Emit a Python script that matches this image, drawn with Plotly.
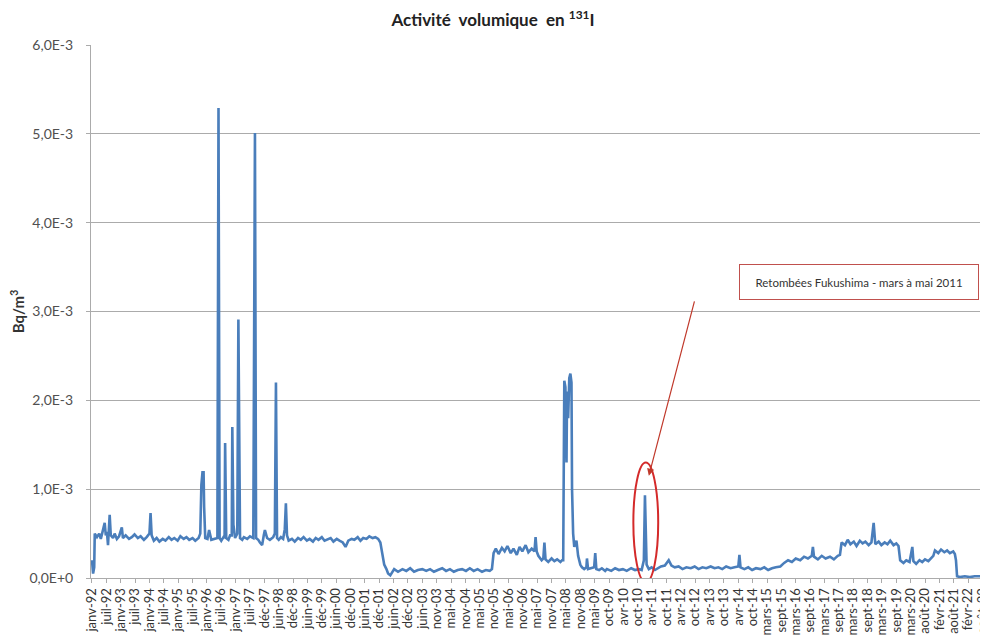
import plotly.graph_objects as go

# ---- Data -------------------------------------------------------------
# Sample index (weekly-ish samples, 26 samples between two axis labels)
week_index = [
    0, 2, 4, 5, 9, 13, 16, 20, 23, 25, 27, 29, 31, 32, 34, 38, 41, 45, 49, 54,
    56, 61, 67, 72, 77, 83, 88, 94, 99, 104, 106, 108, 112, 117, 122, 128, 133, 139, 144, 149,
    155, 160, 166, 171, 176, 182, 187, 193, 196, 198, 200, 202, 203, 205, 209, 212, 216, 220, 225, 227,
    229, 231, 234, 238, 240, 241, 243, 247, 250, 253, 254, 256, 259, 263, 265, 268, 272, 275, 281, 286,
    292, 295, 297, 301, 304, 308, 311, 313, 317, 322, 328, 331, 333, 335, 338, 342, 346, 349, 351, 353,
    356, 362, 367, 373, 378, 383, 389, 394, 400, 405, 410, 416, 421, 427, 432, 437, 443, 448, 454, 459,
    464, 470, 475, 481, 486, 491, 497, 502, 508, 513, 518, 522, 526, 529, 533, 536, 540, 544, 547, 554,
    562, 569, 576, 583, 590, 598, 605, 612, 619, 626, 634, 641, 648, 655, 662, 670, 677, 684, 691, 698,
    706, 713, 720, 724, 727, 731, 736, 742, 747, 752, 758, 763, 769, 774, 779, 785, 790, 796, 801, 803,
    805, 808, 814, 817, 819, 821, 826, 832, 837, 842, 848, 851, 853, 855, 857, 859, 860, 862, 864, 866,
    868, 869, 871, 873, 877, 880, 884, 887, 891, 895, 896, 898, 904, 909, 911, 913, 918, 923, 929, 932,
    940, 947, 954, 961, 968, 976, 983, 990, 995, 999, 1001, 1003, 1004, 1008, 1013, 1019, 1024, 1030, 1037, 1044,
    1049, 1055, 1062, 1069, 1076, 1084, 1091, 1098, 1105, 1112, 1120, 1127, 1134, 1141, 1148, 1156, 1163, 1170, 1172, 1174,
    1181, 1188, 1195, 1202, 1210, 1217, 1224, 1231, 1238, 1246, 1253, 1260, 1267, 1274, 1282, 1289, 1296, 1303, 1305, 1307,
    1314, 1321, 1328, 1336, 1343, 1350, 1354, 1357, 1363, 1368, 1373, 1379, 1384, 1390, 1395, 1400, 1406, 1411, 1415, 1418,
    1424, 1429, 1435, 1440, 1445, 1451, 1456, 1460, 1463, 1469, 1474, 1480, 1485, 1487, 1492, 1498, 1503, 1508, 1514, 1519,
    1523, 1526, 1532, 1537, 1543, 1548, 1553, 1559, 1562, 1564, 1566, 1571, 1580, 1589, 1598, 1622,
]

# Activity in units of 1E-3 Bq/m3
activity_e3 = [
    0.20, 0.05, 0.12, 0.50, 0.46, 0.50, 0.44, 0.55, 0.62, 0.48, 0.52, 0.37, 0.55, 0.71, 0.48, 0.45, 0.50, 0.44, 0.47, 0.57,
    0.45, 0.48, 0.44, 0.46, 0.49, 0.45, 0.47, 0.43, 0.46, 0.50, 0.73, 0.48, 0.42, 0.45, 0.41, 0.44, 0.42, 0.46, 0.43, 0.45,
    0.42, 0.47, 0.44, 0.46, 0.43, 0.45, 0.42, 0.45, 0.50, 1.05, 1.19, 1.19, 0.80, 0.45, 0.44, 0.54, 0.43, 0.44, 0.45, 0.45,
    5.29, 0.45, 0.42, 0.46, 0.45, 1.52, 0.45, 0.43, 0.48, 0.48, 1.70, 0.60, 0.45, 0.50, 2.91, 0.45, 0.43, 0.46, 0.44, 0.47,
    0.45, 5.01, 0.45, 0.43, 0.40, 0.37, 0.48, 0.54, 0.45, 0.43, 0.46, 0.50, 2.20, 0.45, 0.43, 0.46, 0.44, 0.55, 0.84, 0.48,
    0.42, 0.44, 0.41, 0.45, 0.43, 0.46, 0.42, 0.44, 0.41, 0.45, 0.43, 0.46, 0.42, 0.44, 0.45, 0.41, 0.44, 0.42, 0.40, 0.35,
    0.42, 0.44, 0.43, 0.46, 0.42, 0.45, 0.44, 0.47, 0.45, 0.46, 0.44, 0.40, 0.25, 0.15, 0.10, 0.05, 0.03, 0.08, 0.10, 0.07,
    0.10, 0.08, 0.11, 0.07, 0.09, 0.10, 0.08, 0.10, 0.07, 0.09, 0.11, 0.08, 0.10, 0.07, 0.09, 0.10, 0.08, 0.11, 0.08, 0.10,
    0.07, 0.09, 0.08, 0.10, 0.28, 0.33, 0.27, 0.34, 0.30, 0.36, 0.28, 0.33, 0.26, 0.35, 0.30, 0.37, 0.29, 0.33, 0.30, 0.46,
    0.30, 0.25, 0.20, 0.22, 0.40, 0.21, 0.18, 0.22, 0.19, 0.21, 0.18, 0.20, 0.20, 2.22, 2.15, 1.30, 2.10, 1.80, 2.25, 2.30,
    2.20, 1.00, 0.50, 0.35, 0.42, 0.25, 0.15, 0.12, 0.10, 0.12, 0.22, 0.10, 0.11, 0.12, 0.28, 0.10, 0.09, 0.11, 0.08, 0.10,
    0.08, 0.11, 0.09, 0.10, 0.08, 0.11, 0.09, 0.10, 0.09, 0.20, 0.93, 0.40, 0.15, 0.10, 0.12, 0.09, 0.11, 0.13, 0.14, 0.20,
    0.14, 0.12, 0.13, 0.10, 0.12, 0.11, 0.13, 0.10, 0.12, 0.11, 0.13, 0.11, 0.12, 0.10, 0.13, 0.11, 0.12, 0.13, 0.26, 0.12,
    0.10, 0.12, 0.09, 0.11, 0.10, 0.12, 0.09, 0.11, 0.12, 0.13, 0.17, 0.20, 0.18, 0.22, 0.20, 0.24, 0.22, 0.25, 0.35, 0.24,
    0.21, 0.25, 0.22, 0.24, 0.21, 0.25, 0.26, 0.40, 0.37, 0.43, 0.38, 0.41, 0.36, 0.42, 0.39, 0.41, 0.37, 0.40, 0.62, 0.38,
    0.41, 0.37, 0.40, 0.38, 0.42, 0.37, 0.39, 0.36, 0.20, 0.17, 0.20, 0.18, 0.35, 0.19, 0.16, 0.20, 0.18, 0.21, 0.19, 0.22,
    0.25, 0.31, 0.28, 0.32, 0.29, 0.31, 0.28, 0.30, 0.27, 0.20, 0.02, 0.01, 0.02, 0.01, 0.02, 0.02,
]

x_tick_labels = [
    "janv-92", "juil-92", "janv-93", "juil-93", "janv-94", "juil-94", "janv-95", "juil-95",
    "janv-96", "juil-96", "janv-97", "juil-97", "déc-97", "juin-98", "déc-98", "juin-99",
    "déc-99", "juin-00", "déc-00", "juin-01", "déc-01", "juin-02", "déc-02", "juin-03",
    "nov-03", "mai-04", "nov-04", "mai-05", "nov-05", "mai-06", "nov-06", "mai-07",
    "nov-07", "mai-08", "nov-08", "mai-09", "oct-09", "avr-10", "oct-10", "avr-11",
    "oct-11", "avr-12", "oct-12", "avr-13", "oct-13", "avr-14", "oct-14", "mars-15",
    "sept-15", "mars-16", "sept-16", "mars-17", "sept-17", "mars-18", "sept-18", "mars-19",
    "sept-19", "mars-20", "août-20", "févr-21", "août-21", "févr-22", "août-22",
]
samples_per_label = 26

y_tick_values = [0, 1e-3, 2e-3, 3e-3, 4e-3, 5e-3, 6e-3]
y_tick_labels = ["0,0E+0", "1,0E-3", "2,0E-3", "3,0E-3", "4,0E-3", "5,0E-3", "6,0E-3"]

fukushima_week = 1001
fukushima_note = "Retombées Fukushima - mars à mai 2011"

# ---- Figure -----------------------------------------------------------
# (the page body adds an 8 px offset, so the figure is 8 px smaller)
FONT = "Lato"
GRID = "#ababab"
TXT = "#404040"
W, H = 980, 632

fig = go.Figure()
fig.add_trace(go.Scatter(
    x=week_index,
    y=[v * 1e-3 for v in activity_e3],
    mode="lines",
    line=dict(color="#4a7ebb", width=2.6),
    showlegend=False,
    hoverinfo="x+y",
))

tickvals = [i * samples_per_label for i in range(len(x_tick_labels))]

fig.update_layout(
    width=W, height=H,
    margin=dict(l=83, r=0, t=37, b=62),
    paper_bgcolor="white", plot_bgcolor="white",
    font=dict(family=FONT, color=TXT, size=11),
    title=dict(
        text="<b>Activité  volumique  en <sup>131</sup>I</b>",
        x=(493 - 8) / W, xref="container", xanchor="center",
        y=1 - 12 / H, yref="container", yanchor="middle",
        font=dict(family=FONT, size=17, color="#222222"),
    ),
    xaxis=dict(
        range=[-1.8, 1622], automargin=False,
        tickmode="array", tickvals=tickvals, ticktext=x_tick_labels,
        tickangle=-90, tickfont=dict(size=13, color="#333333"),
        ticklabeloverflow="allow",
        ticks="outside", ticklen=4, tickcolor=GRID,
        showline=True, linecolor=GRID, linewidth=1,
        showgrid=False, zeroline=False,
    ),
    yaxis=dict(
        range=[0, 6e-3], automargin=False,
        tickmode="array", tickvals=y_tick_values, ticktext=y_tick_labels,
        tickfont=dict(size=14, color="#505050"),
        ticks="outside", ticklen=4, tickcolor=GRID,
        ticklabelstandoff=10,
        showline=True, linecolor=GRID, linewidth=1,
        showgrid=True, gridcolor=GRID, gridwidth=1,
        zeroline=False,
        title=dict(text="<b>Bq/m<sup>3</sup></b>", font=dict(size=15, color="#333333"), standoff=6),
    ),
)

# Ellipse around the Fukushima fallout
fig.add_shape(
    type="circle", xref="x", yref="y",
    x0=fukushima_week - 21, x1=fukushima_week + 24,
    y0=-0.05e-3, y1=1.30e-3,
    line=dict(color="#d42a2a", width=2),
)

# Arrow
fig.add_annotation(
    x=fukushima_week + 7, y=1.15e-3, xref="x", yref="y",
    text="", showarrow=True, arrowhead=2, arrowsize=1.2, arrowwidth=1.2,
    arrowcolor="#c0392b", ax=46, ay=-176,
)

# Text box
fig.add_annotation(
    x=1389, y=3.33e-3, xref="x", yref="y",
    text=fukushima_note, showarrow=False,
    font=dict(family=FONT, size=11.5, color="#333333"),
    bordercolor="#c0504d", borderwidth=1, borderpad=3,
    bgcolor="white", width=232, height=28,
)

fig.write_html("out.html")
